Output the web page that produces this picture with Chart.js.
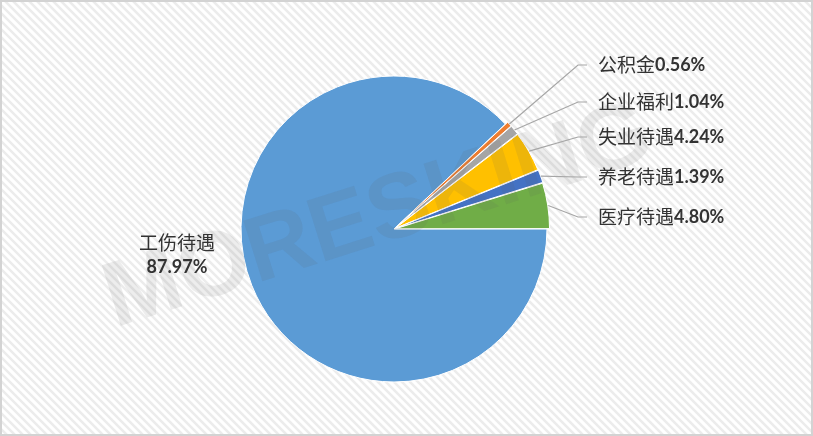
<!DOCTYPE html>
<html>
<head>
<meta charset="utf-8">
<script src="https://cdn.jsdelivr.net/npm/chart.js@4/dist/chart.umd.min.js"></script>
<style>
  html, body { margin: 0; padding: 0; background: #fff; }
  #wrap { width: 813px; height: 436px; position: relative; }
</style>
</head>
<body>
<div id="wrap"><canvas id="pie"></canvas></div>
<script>
// data, clockwise from 3 o'clock
const categories = ['工伤待遇', '公积金', '企业福利', '失业待遇', '养老待遇', '医疗待遇'];
const shares = [87.97, 0.56, 1.04, 4.24, 1.39, 4.80];
const colors = ['#5B9BD5', '#ED7D31', '#A5A5A5', '#FFC000', '#4472C4', '#70AD47'];

const TEXT = '#333333';
const CJK = '"Noto Sans CJK SC", sans-serif';
const NUM = 'bold 18px Lato, "Liberation Sans", sans-serif';

const pct = v => v.toFixed(2) + '%';

// striped backdrop + frame
const backdrop = {
  id: 'backdrop',
  beforeDraw(chart) {
    const { ctx, width, height } = chart;
    ctx.save();
    ctx.fillStyle = '#fff';
    ctx.fillRect(0, 0, width, height);
    ctx.strokeStyle = '#ececec';
    ctx.lineWidth = 2.5;
    ctx.beginPath();
    for (let s = -height; s < width; s += 8) {
      ctx.moveTo(s, 0);
      ctx.lineTo(s + height, height);
    }
    ctx.stroke();
    ctx.restore();
  },
  afterDraw(chart) {
    const { ctx, width, height } = chart;
    ctx.save();
    ctx.strokeStyle = '#d3d3d3';
    ctx.lineWidth = 2;
    ctx.strokeRect(1, 1, width - 2, height - 2);
    ctx.restore();
  },
};

const watermark = {
  id: 'watermark',
  afterDatasetsDraw(chart) {
    const { ctx } = chart;
    ctx.save();
    ctx.translate(378, 218);
    ctx.rotate(-17.5 * Math.PI / 180);
    ctx.font = 'bold 92px "Liberation Sans", Arial, sans-serif';
    ctx.fillStyle = 'rgba(90,90,90,0.11)';
    ctx.textAlign = 'center';
    ctx.textBaseline = 'middle';
    ctx.fillText('MORESKING', 0, 0);
    ctx.restore();
  },
};

// label text: chinese name + bold percentage
function drawLabel(ctx, name, value, x, y) {
  ctx.textBaseline = 'middle';
  ctx.textAlign = 'left';
  ctx.fillStyle = TEXT;
  ctx.font = '19px ' + CJK;
  ctx.fillText(name, x, y);
  const w = ctx.measureText(name).width;
  ctx.font = NUM;
  ctx.fillText(pct(value), x + w, y);
}

const sliceLabels = {
  id: 'sliceLabels',
  afterDatasetsDraw(chart, args, opts) {
    const { ctx } = chart;
    const meta = chart.getDatasetMeta(0);
    ctx.save();

    // big slice: two lines on the left
    ctx.fillStyle = TEXT;
    ctx.textAlign = 'center';
    ctx.textBaseline = 'middle';
    ctx.font = '19px ' + CJK;
    ctx.fillText(categories[0], opts.bigX, opts.bigY);
    ctx.font = NUM;
    ctx.fillText(pct(shares[0]), opts.bigX, opts.bigY + 24);

    // small slices: leader lines to a column on the right
    const order = [1, 2, 3, 4, 5];
    order.forEach((i, k) => {
      const arc = meta.data[i];
      const { x, y, startAngle, endAngle, outerRadius } = arc.getProps(['x', 'y', 'startAngle', 'endAngle', 'outerRadius'], true);
      const off = arc.options.offset || 0;
      const mid = (startAngle + endAngle) / 2;
      const r = outerRadius + off - 3;
      const ly = opts.rowY[k];
      ctx.strokeStyle = '#a6a6a6';
      ctx.lineWidth = 1.2;
      ctx.beginPath();
      ctx.moveTo(x + Math.cos(mid) * r, y + Math.sin(mid) * r);
      ctx.lineTo(opts.elbowX, ly);
      ctx.lineTo(opts.elbowX + 9, ly);
      ctx.stroke();
      drawLabel(ctx, categories[i], shares[i], opts.textX, ly);
    });
    ctx.restore();
  },
};

new Chart(document.getElementById('pie'), {
  type: 'pie',
  data: {
    labels: categories,
    datasets: [{
      data: shares,
      backgroundColor: colors,
      borderColor: '#ffffff',
      borderWidth: 1,
      offset: [0, 6, 6, 6, 6, 6],
    }],
  },
  options: {
    responsive: true,
    maintainAspectRatio: false,
    animation: false,
    events: [],
    rotation: 90,
    radius: 153,
    layout: { padding: { left: 0, right: 25, top: 22, bottom: 0 } },
    plugins: {
      legend: { display: false },
      tooltip: { enabled: false },
      sliceLabels: {
        bigX: 177, bigY: 243,
        elbowX: 578, textX: 598,
        rowY: [65, 102, 137, 177, 217],
      },
    },
  },
  plugins: [backdrop, watermark, sliceLabels],
});
</script>
</body>
</html>
